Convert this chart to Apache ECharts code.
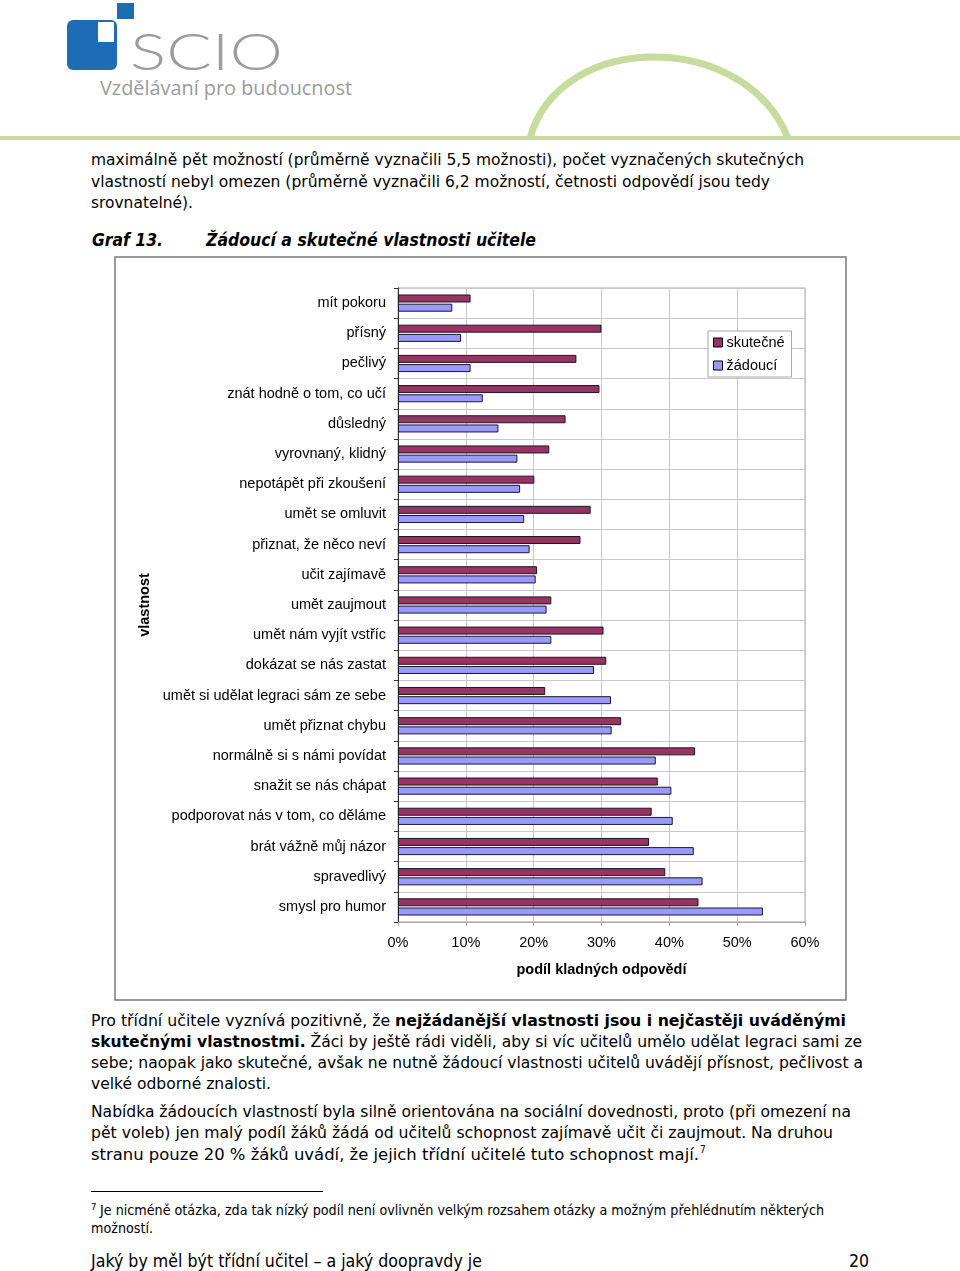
<!DOCTYPE html>
<html><head><meta charset="utf-8">
<script src="https://cdn.jsdelivr.net/npm/echarts@6/dist/echarts.min.js"></script>
<style>
html,body{margin:0;padding:0;background:#fff;}
body{width:960px;height:1271px;position:relative;overflow:hidden;}
#page{position:absolute;left:0;top:0;}
#chart{position:absolute;left:0;top:0;width:960px;height:1271px;}
.body{font-family:"DejaVu Sans Condensed","DejaVu Sans",sans-serif;font-size:16.5px;fill:#000;}
</style></head>
<body>
<svg id="page" width="960" height="1271" xmlns="http://www.w3.org/2000/svg">
  <!-- header -->
  <rect x="67" y="20" width="50" height="50" rx="6" fill="#1e6db4"/>
  <rect x="98" y="22" width="16" height="20" fill="#fff"/>
  <rect x="117" y="3" width="17" height="16" fill="#1e6db4"/>
  <text x="130" y="70" textLength="153" lengthAdjust="spacingAndGlyphs" style="font-family:Lato,'Open Sans',sans-serif;font-weight:300;font-size:52px;fill:#9c9c9c">SCIO</text>
  <text x="100" y="95" textLength="252" lengthAdjust="spacingAndGlyphs" style="font-family:'Open Sans',sans-serif;font-size:20px;fill:#9a9a9a">Vzdělávaní pro budoucnost</text>
  <path d="M530 138 C 560 30, 745 30, 788 138" fill="none" stroke="#c6dc9d" stroke-width="7"/>
  <rect x="0" y="136" width="960" height="4" fill="#c6dc9d"/>

  <text class="body" x="91" y="165" textLength="713" lengthAdjust="spacingAndGlyphs">maximálně pět možností (průměrně vyznačili 5,5 možnosti), počet vyznačených skutečných</text>
  <text class="body" x="91" y="187" textLength="679" lengthAdjust="spacingAndGlyphs">vlastností nebyl omezen (průměrně vyznačili 6,2 možností, četnosti odpovědí jsou tedy</text>
  <text class="body" x="91" y="208" textLength="102" lengthAdjust="spacingAndGlyphs">srovnatelné).</text>

  <text class="body" x="92" y="246" textLength="71" lengthAdjust="spacingAndGlyphs" style="font-weight:bold;font-style:italic;font-size:18px">Graf 13.</text>
  <text class="body" x="206" y="246" textLength="330" lengthAdjust="spacingAndGlyphs" style="font-weight:bold;font-style:italic;font-size:18px">Žádoucí a skutečné vlastnosti učitele</text>

  <text class="body" x="91" y="1026" textLength="755" lengthAdjust="spacingAndGlyphs">Pro třídní učitele vyznívá pozitivně, že <tspan font-weight="bold">nejžádanější vlastnosti jsou i nejčastěji uváděnými</tspan></text>
  <text class="body" x="91" y="1047" textLength="771" lengthAdjust="spacingAndGlyphs"><tspan font-weight="bold">skutečnými vlastnostmi.</tspan> Žáci by ještě rádi viděli, aby si víc učitelů umělo udělat legraci sami ze</text>
  <text class="body" x="91" y="1068" textLength="772" lengthAdjust="spacingAndGlyphs">sebe; naopak jako skutečné, avšak ne nutně žádoucí vlastnosti učitelů uvádějí přísnost, pečlivost a</text>
  <text class="body" x="91" y="1089" textLength="180" lengthAdjust="spacingAndGlyphs">velké odborné znalosti.</text>

  <text class="body" x="91" y="1117" textLength="760" lengthAdjust="spacingAndGlyphs">Nabídka žádoucích vlastností byla silně orientována na sociální dovednosti, proto (při omezení na</text>
  <text class="body" x="91" y="1138" textLength="742" lengthAdjust="spacingAndGlyphs">pět voleb) jen malý podíl žáků žádá od učitelů schopnost zajímavě učit či zaujmout. Na druhou</text>
  <text class="body" x="91" y="1160" textLength="608" lengthAdjust="spacingAndGlyphs">stranu pouze 20 % žáků uvádí, že jejich třídní učitelé tuto schopnost mají.</text>
  <text class="body" x="700" y="1153" style="font-size:10px">7</text>

  <rect x="91" y="1191" width="232" height="1" fill="#000"/>
  <text class="body" x="91" y="1210" style="font-size:9.5px">7</text>
  <text class="body" x="100" y="1215" textLength="724" lengthAdjust="spacingAndGlyphs" style="font-size:14px">Je nicméně otázka, zda tak nízký podíl není ovlivněn velkým rozsahem otázky a možným přehlédnutím některých</text>
  <text class="body" x="91" y="1233" textLength="62" lengthAdjust="spacingAndGlyphs" style="font-size:14px">možností.</text>

  <text class="body" x="91" y="1267" textLength="391" lengthAdjust="spacingAndGlyphs" style="font-size:18px">Jaký by měl být třídní učitel – a jaký doopravdy je</text>
  <text class="body" x="849" y="1267" textLength="20" lengthAdjust="spacingAndGlyphs" style="font-size:18px">20</text>
</svg>
<div id="chart"></div>
<script>
const categories = ['mít pokoru','přísný','pečlivý','znát hodně o tom, co učí','důsledný','vyrovnaný, klidný','nepotápět při zkoušení','umět se omluvit','přiznat, že něco neví','učit zajímavě','umět zaujmout','umět nám vyjít vstříc','dokázat se nás zastat','umět si udělat legraci sám ze sebe','umět přiznat chybu','normálně si s námi povídat','snažit se nás chápat','podporovat nás v tom, co děláme','brát vážně můj názor','spravedlivý','smysl pro humor'];
const skutecne = [10.7,30.0,26.3,29.7,24.7,22.3,20.1,28.4,26.9,20.5,22.6,30.3,30.7,21.7,32.9,43.8,38.3,37.4,37.0,39.4,44.3];
const zadouci = [8.0,9.3,10.7,12.5,14.8,17.6,18.0,18.6,19.4,20.3,21.9,22.6,28.9,31.4,31.5,38.0,40.3,40.5,43.6,44.9,53.8];
const xTicks = [0,10,20,30,40,50,60];
const seriesNames = ['skutečné','žádoucí'];

const chart = echarts.init(document.getElementById('chart'), null, {renderer:'canvas'});
const font = 'Liberation Sans, Arial, sans-serif';
const fs = 14.5;
chart.setOption({
  animation:false,
  textStyle:{fontFamily:font},
  graphic:[{type:'rect',shape:{x:115,y:257,width:731,height:743},style:{fill:'none',stroke:'#7a7a7a',lineWidth:1.5},z:-1}],
  grid:{left:398,top:288,width:407,height:634,show:true,borderColor:'#a6a6a6',borderWidth:1,containLabel:false},
  legend:{orient:'vertical',left:708,top:331,data:seriesNames,itemWidth:9,itemHeight:9,itemGap:8,
    padding:[4,7,4,5],borderColor:'#a6a6a6',borderWidth:1,backgroundColor:'#fff',icon:'rect',
    itemStyle:{borderColor:'#000',borderWidth:1},
    textStyle:{fontSize:fs,color:'#000',fontFamily:font,padding:[0,0,0,-1]}},
  xAxis:{type:'value',min:xTicks[0],max:xTicks[xTicks.length-1],interval:10,
    axisLine:{show:true,lineStyle:{color:'#a6a6a6'}},
    axisTick:{show:true,length:4,lineStyle:{color:'#a6a6a6'}},
    splitLine:{show:true,lineStyle:{color:'#c8c8c8'}},
    axisLabel:{formatter:'{value}%',fontSize:fs,color:'#000',margin:13,fontFamily:font},
    name:'podíl kladných odpovědí',nameLocation:'middle',nameGap:40,
    nameTextStyle:{fontSize:fs,fontWeight:'bold',color:'#000',fontFamily:font}},
  yAxis:{type:'category',inverse:true,data:categories,
    axisLine:{show:true,lineStyle:{color:'#333'}},
    axisTick:{show:true,length:4,lineStyle:{color:'#333'}},
    splitLine:{show:true,lineStyle:{color:'#c8c8c8'}},
    axisLabel:{fontSize:fs,color:'#000',margin:12,fontFamily:font},
    name:'vlastnost',nameLocation:'middle',nameGap:246,nameRotate:90,
    nameTextStyle:{fontSize:fs,fontWeight:'bold',color:'#000',fontFamily:font}},
  series:[
    {name:seriesNames[0],type:'bar',data:skutecne,barWidth:8,barGap:'15%',
     itemStyle:{color:'#993366',borderColor:'#1a1a1a',borderWidth:1}},
    {name:seriesNames[1],type:'bar',data:zadouci,barWidth:8,barGap:'15%',
     itemStyle:{color:'#9999ff',borderColor:'#1a1a2a',borderWidth:1}}
  ]
});
</script>
</body></html>
